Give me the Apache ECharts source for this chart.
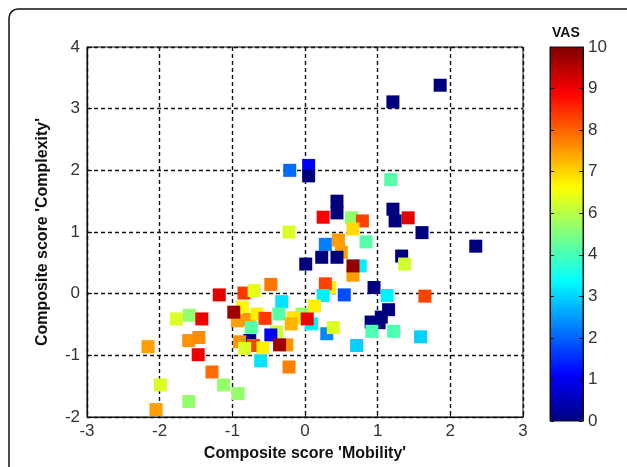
<!DOCTYPE html>
<html>
<head>
<meta charset="utf-8">
<script src="https://cdn.jsdelivr.net/npm/echarts@6/dist/echarts.min.js"></script>
<style>
  html, body { margin: 0; padding: 0; background: #fff; }
  #chart { width: 627px; height: 467px; }
</style>
</head>
<body>
<div id="chart"></div>
<script>
// composite scores (x = Mobility, y = Complexity) and VAS colour value per patient
var mobility = [1.86, 1.21, 1.18, -0.21, 0.05, 0.05, -0.22, 0.44, 0.44, 0.25,
    0.64, 0.79, 0.66, 1.21, 1.24, 1.42, 1.61, 2.35, 0.28, 0.46,
    0.84, 0.50, 0.01, 0.23, 0.44, 0.76, 0.66, 0.66, 1.33, 1.37,
    0.34, 0.28, 0.25, 0.54, 0.95, 1.13, 1.65, 0.13, -0.04, 0.09,
    0.03, 1.15, 1.05, 0.91, 1.02, 0.30, 0.39, 0.92, 1.22, 1.59,
    0.71, -0.47, -1.18, -0.84, -0.70, -0.32, -0.86, -0.77, -0.93, -0.98,
    -0.66, -0.55, -0.36, -0.74, -0.16, -0.19, -0.39, -0.47, -0.76, -0.90,
    -0.71, -0.58, -0.83, -0.25, -0.35, -0.61, -0.22, -1.77, -1.59, -1.42,
    -1.60, -1.46, -1.47, -2.16, -1.28, -1.12, -0.92, -1.99, -1.60, -2.05];
var complexity = [3.38, 3.11, 1.85, 2.00, 2.08, 1.91, 1.00, 1.50, 1.31, 1.24,
    1.23, 1.18, 1.05, 1.37, 1.18, 1.23, 0.99, 0.77, 0.80, 0.87,
    0.84, 0.67, 0.48, 0.59, 0.59, 0.45, 0.30, 0.45, 0.61, 0.48,
    0.10, 0.16, -0.03, -0.02, 0.10, -0.03, -0.04, -0.20, -0.33, -0.49,
    -0.41, -0.26, -0.38, -0.46, -0.47, -0.65, -0.55, -0.61, -0.61, -0.70,
    -0.84, 0.15, -0.02, 0.01, 0.05, -0.13, -0.22, -0.42, -0.44, -0.30,
    -0.33, -0.40, -0.33, -0.55, -0.39, -0.49, -0.62, -0.67, -0.76, -0.78,
    -0.84, -0.88, -0.89, -0.83, -0.83, -1.09, -1.19, -0.41, -0.35, -0.41,
    -0.76, -0.71, -0.99, -0.86, -1.27, -1.48, -1.62, -1.48, -1.75, -1.88];
var vas = [0, 0, 4.6, 2.3, 1.2, 0, 5.9, 0, 0, 8.8,
    5.2, 8.1, 6.6, 0, 0, 9.0, 0, 0, 2.5, 7.2,
    4.6, 7.2, 0, 0, 0, 3.6, 7.2, 9.8, 0, 5.8,
    6.4, 8.1, 3.6, 2.0, 0, 3.6, 8.1, 6.4, 5.2, 3.6,
    8.9, 0, 0, 0, 0, 2.6, 5.9, 4.5, 4.5, 3.3,
    3.3, 7.6, 9.0, 8.2, 6.0, 3.5, 6.3, 7.3, 7.2, 9.7,
    6.4, 8.2, 4.6, 4.6, 6.5, 7.0, 5.8, 1.2, 0, 7.3,
    8.1, 6.4, 5.9, 7.3, 9.7, 3.5, 7.5, 5.9, 5.2, 8.9,
    7.3, 7.4, 8.9, 7.2, 7.7, 5.2, 5.2, 5.9, 5.2, 7.2];

// colour bar tick labels (as printed on the figure)
var vasTicks = ['0', '1', '2', '3', '4', '6', '7', '8', '9', '10'];

var jet = ['#00007F', '#0000FF', '#007FFF', '#00FFFF', '#7FFF7F',
    '#FFFF00', '#FF7F00', '#FF0000', '#7F0000'];

var points = [];
for (var i = 0; i < mobility.length; i++) {
    points.push([mobility[i], complexity[i], vas[i]]);
}

var myChart = echarts.init(document.getElementById('chart'));

var dashed = { color: '#111', width: 1.4, type: [4, 3] };
var tickFont = { color: '#333', fontSize: 17, fontFamily: 'Liberation Sans' };

var option = {
    backgroundColor: '#fff',
    animation: false,
    graphic: [
        {
            type: 'rect',
            shape: { x: 9, y: 9, width: 660, height: 500, r: 9 },
            style: { fill: 'none', stroke: '#111', lineWidth: 1.5 },
            z: 0
        },
        {
            type: 'text',
            left: 552,
            top: 26,
            style: { text: 'VAS', fontSize: 14, fontWeight: 'bold', fill: '#111', fontFamily: 'Liberation Sans' }
        }
    ],
    grid: [
        {
            left: 87, top: 47, right: 104, bottom: 48,
            show: true, borderColor: '#111', borderWidth: 1
        },
        {
            left: 550, top: 47, width: 33, height: 374,
            show: true, borderColor: '#111', borderWidth: 1,
            backgroundColor: 'transparent', z: 10
        }
    ],
    xAxis: [
        {
            gridIndex: 0,
            type: 'value',
            min: -3, max: 3, interval: 1,
            name: "Composite score 'Mobility'",
            nameLocation: 'middle',
            nameGap: 29,
            nameTextStyle: { fontSize: 16, fontWeight: 'bold', color: '#111', fontFamily: 'Liberation Sans' },
            axisLine: { onZero: false, lineStyle: { color: '#111', width: 1.2 } },
            axisTick: { inside: true, length: 5, lineStyle: { color: '#111' } },
            axisLabel: Object.assign({ margin: 6 }, tickFont),
            splitLine: { show: true, lineStyle: dashed }
        },
        {
            gridIndex: 1,
            type: 'value',
            min: 0, max: 1,
            show: false
        }
    ],
    yAxis: [
        {
            gridIndex: 0,
            type: 'value',
            min: -2, max: 4, interval: 1,
            name: "Composite score 'Complexity'",
            nameLocation: 'middle',
            nameGap: 36,
            nameTextStyle: { fontSize: 16, fontWeight: 'bold', color: '#111', fontFamily: 'Liberation Sans' },
            axisLine: { onZero: false, lineStyle: { color: '#111', width: 1.2 } },
            axisTick: { inside: true, length: 5, lineStyle: { color: '#111' } },
            axisLabel: Object.assign({ margin: 7 }, tickFont),
            splitLine: { show: true, lineStyle: dashed }
        },
        {
            gridIndex: 1,
            type: 'category',
            data: vasTicks,
            boundaryGap: false,
            position: 'right',
            z: 10,
            axisLine: { show: true, onZero: false, lineStyle: { color: '#111' } },
            axisTick: { show: true, inside: true, length: 4, lineStyle: { color: '#111' } },
            axisLabel: Object.assign({ margin: 5, interval: 0 }, tickFont),
            splitLine: { show: false }
        },
        {
            gridIndex: 1,
            type: 'category',
            data: vasTicks,
            boundaryGap: false,
            position: 'left',
            z: 10,
            axisLine: { show: true, onZero: false, lineStyle: { color: '#111' } },
            axisTick: { show: true, inside: true, length: 4, interval: 0, lineStyle: { color: '#111' } },
            axisLabel: { show: false },
            splitLine: { show: false }
        }
    ],
    visualMap: {
        type: 'continuous',
        seriesIndex: 0,
        dimension: 2,
        min: 0,
        max: 10,
        calculable: false,
        hoverLink: false,
        orient: 'vertical',
        left: 550,
        top: 47,
        padding: 0,
        itemWidth: 33,
        itemHeight: 374,
        inRange: { color: jet }
    },
    series: [
        {
            name: 'VAS',
            type: 'scatter',
            xAxisIndex: 0,
            yAxisIndex: 0,
            symbol: 'rect',
            symbolSize: 13,
            itemStyle: { opacity: 1 },
            data: points,
            z: 3
        }
    ]
};

option && myChart.setOption(option);
</script>
</body>
</html>
